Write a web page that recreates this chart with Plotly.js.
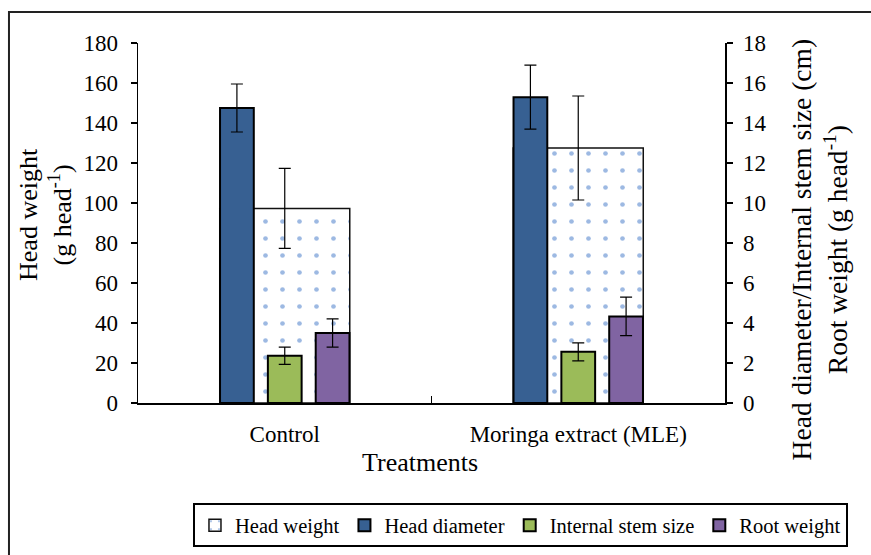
<!DOCTYPE html>
<html><head><meta charset="utf-8">
<script src="https://cdn.plot.ly/plotly-3.0.1.min.js"></script>
<style>html,body{margin:0;padding:0;background:#fff}</style>
</head><body><div id="chart" style="width:871px;height:555px"></div>
<script>
const categories = ['Control', 'Moringa extract (MLE)'];
const headWeight = [97.3, 127.5];
const headWeightErr = [20, 26];
const headDiameter = [14.75, 15.29];
const headDiameterErr = [1.2, 1.6];
const stemSize = [2.36, 2.56];
const stemSizeErr = [0.43, 0.45];
const rootWeight = [3.5, 4.33];
const rootWeightErr = [0.71, 0.96];
const leftTicks = [0, 20, 40, 60, 80, 100, 120, 140, 160, 180];
const rightTicks = [0, 2, 4, 6, 8, 10, 12, 14, 16, 18];

const FONT = 'Liberation Serif, Times New Roman, serif';
const errStyle = (arr) => ({type: 'data', array: arr, visible: true, color: '#000', thickness: 1.2, width: 6});

const traces = [
  {type: 'bar', name: 'Head weight', x: categories, y: headWeight, yaxis: 'y',
   width: 0.443, offset: -0.2215,
   marker: {color: '#ffffff', line: {color: '#111', width: 1.5},
            pattern: {shape: '.', fgcolor: '#3b73c6', bgcolor: '#ffffff', size: 17, solidity: 0.06, fillmode: 'overlay'}},
   error_y: errStyle(headWeightErr)},
  {type: 'bar', name: 'Head diameter', x: categories, y: headDiameter, yaxis: 'y2',
   width: 0.115, offset: -0.2205,
   marker: {color: '#376092', line: {color: '#000', width: 2}},
   error_y: errStyle(headDiameterErr)},
  {type: 'bar', name: 'Internal stem size', x: categories, y: stemSize, yaxis: 'y2',
   width: 0.115, offset: -0.0575,
   marker: {color: '#9BBB59', line: {color: '#000', width: 2}},
   error_y: errStyle(stemSizeErr)},
  {type: 'bar', name: 'Root weight', x: categories, y: rootWeight, yaxis: 'y2',
   width: 0.115, offset: 0.1055,
   marker: {color: '#8064A2', line: {color: '#000', width: 2}},
   error_y: errStyle(rootWeightErr)}
];

const layout = {
  width: 871, height: 555,
  margin: {l: 138, r: 146, t: 43, b: 152, autoexpand: false},
  paper_bgcolor: '#fff', plot_bgcolor: '#fff',
  font: {family: FONT, color: '#000', size: 23},
  barmode: 'overlay',
  showlegend: true,
  legend: {orientation: 'h', x: 1.2095, xanchor: 'right', y: -0.340, yanchor: 'middle',
           bordercolor: '#000', borderwidth: 2, font: {family: FONT, size: 20.5, color: '#000'},
           itemwidth: 30, traceorder: 'normal'},
  xaxis: {type: 'category', range: [-0.5, 1.5], showline: true, linecolor: '#000', linewidth: 1.5,
          ticks: 'inside', tickson: 'boundaries', ticklen: 7, tickwidth: 1.5, tickcolor: '#000',
          ticklabelstandoff: 10,
          showgrid: false, zeroline: false, tickfont: {size: 23}},
  yaxis: {range: [0, 180], tickvals: leftTicks, showline: true, linecolor: '#000', linewidth: 1.5,
          ticks: 'outside', ticklen: 6, tickwidth: 1.5, tickcolor: '#000', ticklabelstandoff: 8,
          showgrid: false, zeroline: false, tickfont: {size: 23}},
  yaxis2: {range: [0, 18], tickvals: rightTicks, overlaying: 'y', side: 'right', showline: true,
           linecolor: '#000', linewidth: 1.5, ticks: 'outside', ticklen: 6, tickwidth: 1.5, tickcolor: '#000',
           ticklabelstandoff: 6, showgrid: false, zeroline: false, tickfont: {size: 23}},
  annotations: [
    {text: 'Treatments', xref: 'paper', yref: 'paper', x: 0.4804, y: -0.1639,
     xanchor: 'center', yanchor: 'middle', showarrow: false, font: {family: FONT, size: 26, color: '#000'}},
    {text: 'Head weight<br>(g head<sup>-1</sup>)', xref: 'paper', yref: 'paper', x: -0.1585, y: 0.525,
     xanchor: 'center', yanchor: 'middle', textangle: -90, showarrow: false,
     font: {family: FONT, size: 26, color: '#000'}},
    {text: 'Head diameter/Internal stem size (cm)<br>Root weight (g head<sup>-1</sup>)',
     xref: 'paper', yref: 'paper', x: 1.1625, y: 0.425, xanchor: 'center', yanchor: 'middle',
     textangle: -90, showarrow: false, font: {family: FONT, size: 27.5, color: '#000'}}
  ],
  shapes: [
    {type: 'rect', xref: 'paper', yref: 'paper', x0: -0.2198, x1: 1.3, y0: 1.086, y1: -0.6,
     line: {color: '#222', width: 2}, fillcolor: 'rgba(0,0,0,0)', layer: 'below'}
  ]
};

Plotly.newPlot('chart', traces, layout, {displayModeBar: false, staticPlot: true});
</script>
</body></html>
